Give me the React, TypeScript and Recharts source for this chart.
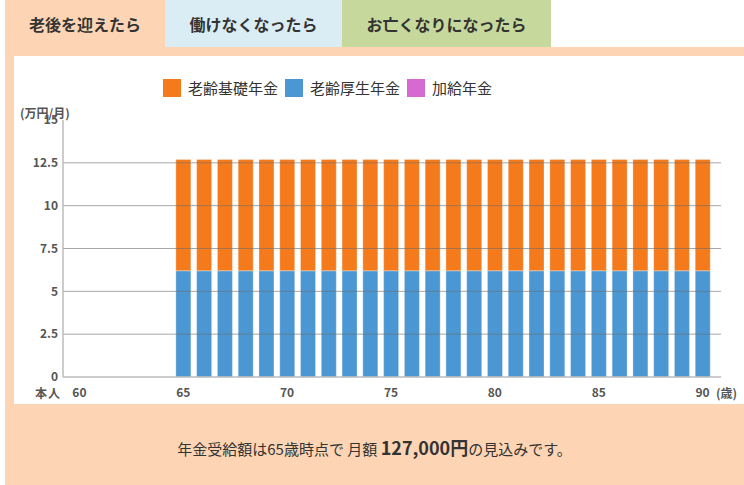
import React from 'react';
import { BarChart, Bar, XAxis, YAxis, ReferenceLine, Legend } from 'recharts';

const ages = ['60','61','62','63','64','65','66','67','68','69','70','71','72','73','74','75','76','77','78','79','80','81','82','83','84','85','86','87','88','89','90'];
const kisoNenkin = [0,0,0,0,0,6.5,6.5,6.5,6.5,6.5,6.5,6.5,6.5,6.5,6.5,6.5,6.5,6.5,6.5,6.5,6.5,6.5,6.5,6.5,6.5,6.5,6.5,6.5,6.5,6.5,6.5];
const koseiNenkin = [0,0,0,0,0,6.2,6.2,6.2,6.2,6.2,6.2,6.2,6.2,6.2,6.2,6.2,6.2,6.2,6.2,6.2,6.2,6.2,6.2,6.2,6.2,6.2,6.2,6.2,6.2,6.2,6.2];
const kakyuNenkin = [0,0,0,0,0,0,0,0,0,0,0,0,0,0,0,0,0,0,0,0,0,0,0,0,0,0,0,0,0,0,0];
const yTicks = [0, 2.5, 5, 7.5, 10, 12.5, 15];
const gridValues = [2.5, 5, 7.5, 10, 12.5];
const seriesNames = ['老齢基礎年金', '老齢厚生年金', '加給年金'];
const seriesColors = ['#F57A1B', '#4A97D3', '#D66AD2'];

const data = ages.map((age, i) => ({
  age,
  kiso: kisoNenkin[i],
  kosei: koseiNenkin[i],
  kakyu: kakyuNenkin[i],
}));

const FONT = '"Noto Sans CJK JP", "Noto Sans", sans-serif';
const PEACH = '#FDD5B4';

const LegendContent = () => (
  <div style={{ display: 'flex', alignItems: 'center', fontFamily: FONT, fontSize: 15, color: '#333', whiteSpace: 'nowrap' }}>
    {seriesNames.map((n, i) => (
      <div key={n} style={{ display: 'flex', alignItems: 'center', marginRight: 7 }}>
        <span style={{ display: 'inline-block', width: 18, height: 18, background: seriesColors[i], marginRight: 7 }} />
        <span>{n}</span>
      </div>
    ))}
  </div>
);

const tabStyle = (left: number, width: number, bg: string): React.CSSProperties => ({
  position: 'absolute', left, top: 0, width, height: 47, background: bg,
  display: 'flex', alignItems: 'center', justifyContent: 'center',
  fontFamily: FONT, fontWeight: 700, fontSize: 16, color: '#333',
});

export default function App() {
  return (
    <div style={{ position: 'absolute', left: 0, top: 0, width: 744, height: 485, background: '#fff', overflow: 'hidden' }}>
      <div style={{ position: 'absolute', left: 5, top: 47, width: 739, height: 438, background: PEACH }} />
      <div style={tabStyle(5, 160, PEACH)}>老後を迎えたら</div>
      <div style={tabStyle(165, 177, '#DAEDF4')}>働けなくなったら</div>
      <div style={tabStyle(342, 209, '#C6D89C')}>お亡くなりになったら</div>
      <div style={{ position: 'absolute', left: 14, top: 56, width: 730, height: 348, background: '#fff' }} />
      <div style={{ position: 'absolute', left: 0, top: 0 }}>
        <BarChart width={744} height={485} data={data} margin={{ top: 120, right: 23, left: 23, bottom: 78 }}>
          <XAxis
            dataKey="age"
            interval={4}
            padding={{ left: 6, right: 8 }}
            tickSize={0}
            tickMargin={11}
            height={30}
            axisLine={{ stroke: '#bbb', strokeWidth: 1.5 }}
            tick={{ fontFamily: FONT, fontSize: 12, fontWeight: 700, fill: '#555' }}
          />
          <XAxis xAxisId="top" dataKey="age" orientation="top" height={0} tick={false} tickLine={false} axisLine={{ stroke: '#c4c4c4', strokeWidth: 1.5 }} />
          <YAxis
            domain={[0, 15]}
            ticks={yTicks}
            width={40}
            tickSize={0}
            tickMargin={5}
            axisLine={{ stroke: '#bbb', strokeWidth: 1.5 }}
            tick={{ fontFamily: FONT, fontSize: 12, fontWeight: 700, fill: '#555' }}
          />
          <YAxis yAxisId="right" orientation="right" width={0} domain={[0, 15]} tick={false} tickLine={false} axisLine={{ stroke: '#c4c4c4', strokeWidth: 1.5 }} />
          <Legend
            layout="vertical"
            align="center"
            verticalAlign="middle"
            content={<LegendContent />}
            wrapperStyle={{ position: 'absolute', top: 77, left: 163, width: 'auto', height: 18 }}
          />
          <Bar dataKey="kosei" name={seriesNames[1]} stackId="a" fill={seriesColors[1]} barSize={15} stroke="rgba(255,255,255,0.3)" strokeWidth={1} isAnimationActive={false} />
          <Bar dataKey="kiso" name={seriesNames[0]} stackId="a" fill={seriesColors[0]} barSize={15} stroke="rgba(255,255,255,0.3)" strokeWidth={1} isAnimationActive={false} />
          <Bar dataKey="kakyu" name={seriesNames[2]} stackId="a" fill={seriesColors[2]} barSize={15} isAnimationActive={false} />
          {gridValues.map((v) => (
            <ReferenceLine key={v} y={v} stroke="rgba(110,110,110,0.6)" strokeWidth={1} />
          ))}
        </BarChart>
      </div>
      <div style={{ position: 'absolute', left: 20, top: 104, fontFamily: FONT, fontSize: 12, fontWeight: 700, color: '#555' }}>(万円/月)</div>
      <div style={{ position: 'absolute', left: 35, top: 384, fontFamily: FONT, fontSize: 12, fontWeight: 700, color: '#555', letterSpacing: 1 }}>本人</div>
      <div style={{ position: 'absolute', left: 716, top: 384, fontFamily: FONT, fontSize: 12, fontWeight: 700, color: '#555', whiteSpace: 'nowrap' }}>(歳)</div>
      <div style={{ position: 'absolute', left: 5, top: 434, width: 739, textAlign: 'center', fontFamily: FONT, fontSize: 15, color: '#333' }}>
        年金受給額は65歳時点で 月額 <span style={{ fontWeight: 700, fontSize: 18 }}>127,000円</span>の見込みです。
      </div>
    </div>
  );
}
